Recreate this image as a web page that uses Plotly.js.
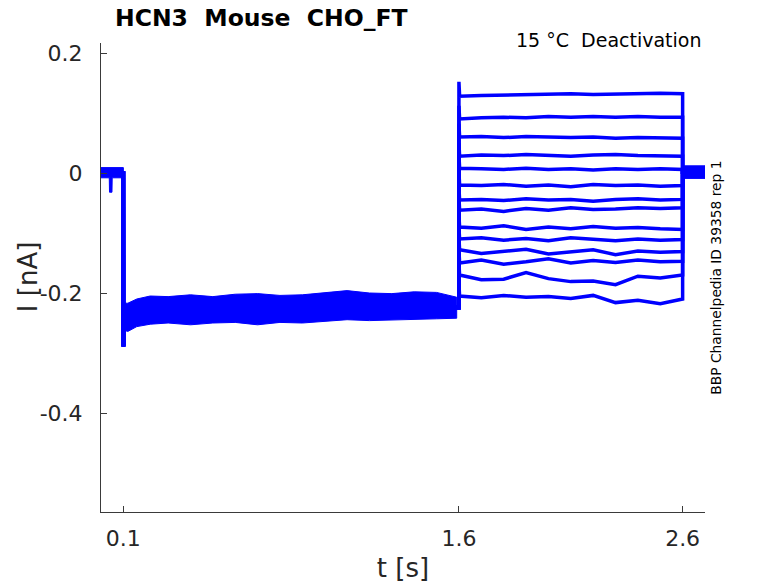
<!DOCTYPE html>
<html>
<head>
<meta charset="utf-8">
<script src="https://cdn.plot.ly/plotly-3.0.1.min.js"></script>
<style>
  html, body { margin: 0; padding: 0; background: #fff; }
  #chart { width: 778px; height: 583px; }
</style>
</head>
<body>
<div id="chart"></div>
<script>
// pre-pulse baseline noise band (t < 0.1 s), with the short dip near 0.04 s
const tPreUpper = [0, 0.1];
const preUpper = [0.009, 0.009];
const tPreLower = [0, 0.037, 0.038, 0.049, 0.05, 0.1];
const preLower = [-0.008, -0.008, -0.032, -0.032, -0.008, -0.008];

// holding segment noise band (0.1 .. 1.6 s), all sweeps on top of each other
const tHold = [0.102, 0.12, 0.16, 0.22, 0.3, 0.4, 0.5, 0.6, 0.7, 0.8, 0.9, 1.0, 1.1, 1.2, 1.3, 1.4, 1.5, 1.59];
const holdUpper = [-0.217, -0.217, -0.210, -0.205, -0.206, -0.203, -0.206, -0.202, -0.201, -0.204, -0.203, -0.199, -0.196, -0.200, -0.201, -0.198, -0.199, -0.207];
const holdLower = [-0.262, -0.264, -0.256, -0.252, -0.250, -0.253, -0.250, -0.249, -0.253, -0.249, -0.250, -0.247, -0.2445, -0.246, -0.2445, -0.244, -0.243, -0.242];
const holdCenter = [-0.238, -0.240, -0.233, -0.229, -0.228, -0.228, -0.228, -0.226, -0.227, -0.226, -0.226, -0.223, -0.220, -0.223, -0.222, -0.221, -0.221, -0.224];
const stepSpike = -0.289;

// tail after the test pulse (2.6 .. 2.7 s)
const tTail = [2.6, 2.7];
const tailUpper = [0.012, 0.012];
const tailLower = [-0.009, -0.009];

// test pulse, one row per sweep
const tTest = [1.6, 1.7, 1.8, 1.9, 2.0, 2.1, 2.2, 2.3, 2.4, 2.5, 2.6];
const testSpikes = [0.152, 0.112, 0.082, 0.050, 0.030, 0.002, -0.024, -0.040, -0.070, -0.090, -0.108, -0.128, -0.150, -0.185];
const sweeps = [
  [0.128, 0.129, 0.130, 0.131, 0.131, 0.132, 0.131, 0.132, 0.132, 0.133, 0.132],
  [0.090, 0.092, 0.093, 0.092, 0.094, 0.093, 0.094, 0.093, 0.094, 0.093, 0.093],
  [0.060, 0.061, 0.059, 0.061, 0.060, 0.059, 0.060, 0.058, 0.059, 0.059, 0.058],
  [0.028, 0.030, 0.029, 0.031, 0.030, 0.028, 0.030, 0.031, 0.029, 0.029, 0.028],
  [0.008, 0.007, 0.006, 0.008, 0.006, 0.007, 0.005, 0.007, 0.006, 0.007, 0.006],
  [-0.020, -0.021, -0.019, -0.022, -0.020, -0.023, -0.019, -0.021, -0.020, -0.022, -0.021],
  [-0.045, -0.044, -0.046, -0.043, -0.045, -0.044, -0.047, -0.044, -0.043, -0.045, -0.044],
  [-0.062, -0.060, -0.064, -0.059, -0.062, -0.058, -0.061, -0.060, -0.058, -0.059, -0.058],
  [-0.090, -0.092, -0.088, -0.094, -0.090, -0.093, -0.089, -0.092, -0.091, -0.093, -0.094],
  [-0.110, -0.108, -0.112, -0.109, -0.113, -0.108, -0.111, -0.113, -0.110, -0.112, -0.111],
  [-0.128, -0.134, -0.130, -0.127, -0.135, -0.131, -0.128, -0.136, -0.130, -0.132, -0.131],
  [-0.150, -0.145, -0.152, -0.148, -0.143, -0.150, -0.146, -0.149, -0.145, -0.148, -0.147],
  [-0.170, -0.178, -0.177, -0.166, -0.176, -0.181, -0.180, -0.186, -0.172, -0.175, -0.170],
  [-0.205, -0.208, -0.204, -0.207, -0.206, -0.209, -0.204, -0.216, -0.212, -0.218, -0.210]
];
const tailLevel = 0.001;

const xTicks = [0.1, 1.6, 2.6];
const xTickText = ["0.1", "1.6", "2.6"];
const yTicks = [-0.4, -0.2, 0, 0.2];
const yTickText = ["-0.4", "-0.2", "0", "0.2"];

const blue = "rgb(0,0,255)";
const axisColor = "#3a3a3a";
const textColor = "#262626";

function band(tUp, up, tLow, low) {
  return {
    x: tUp.concat(tLow.slice().reverse()),
    y: up.concat(low.slice().reverse()),
    type: "scatter",
    mode: "lines",
    fill: "toself",
    fillcolor: blue,
    line: { color: blue, width: 1 },
    hoverinfo: "skip",
    showlegend: false,
  };
}

const traces = [];

sweeps.forEach((levels, i) => {
  const x = [0, 0.1, 0.1005, 0.104]
    .concat(tHold.slice(1), [1.6, 1.6, 1.603], tTest.slice(1), [2.6, 2.7]);
  const y = [0, 0, stepSpike, holdCenter[0]]
    .concat(holdCenter.slice(1), [holdCenter[holdCenter.length - 1], testSpikes[i], levels[0]],
      levels.slice(1), [tailLevel, tailLevel]);
  traces.push({
    x: x,
    y: y,
    type: "scatter",
    mode: "lines",
    line: { color: blue, width: 3.5 },
    hoverinfo: "skip",
    showlegend: false,
  });
});

traces.push(band(tPreUpper, preUpper, tPreLower, preLower));
traces.push(band(tHold, holdUpper, tHold, holdLower));
traces.push(band(tTail, tailUpper, tTail, tailLower));

const layout = {
  width: 778,
  height: 583,
  margin: { l: 101, r: 73, t: 43, b: 71 },
  paper_bgcolor: "#fff",
  plot_bgcolor: "#fff",
  font: { family: "DejaVu Sans", color: textColor },
  title: {
    text: "<b>HCN3  Mouse  CHO_FT</b>",
    font: { family: "DejaVu Sans", size: 23.5, color: "#000" },
    x: 115 / 778,
    xanchor: "left",
    xref: "container",
    y: 1 - 18 / 583,
    yanchor: "middle",
    yref: "container",
  },
  xaxis: {
    range: [0, 2.7],
    tickvals: xTicks,
    ticktext: xTickText,
    ticks: "inside",
    ticklen: 6,
    tickcolor: axisColor,
    tickfont: { size: 22, color: textColor },
    ticklabelstandoff: 7,
    showline: true,
    linecolor: axisColor,
    linewidth: 1,
    showgrid: false,
    zeroline: false,
    title: { text: "t [s]", font: { size: 26, color: textColor }, standoff: 10 },
  },
  yaxis: {
    range: [-0.565, 0.2167],
    tickvals: yTicks,
    ticktext: yTickText,
    ticks: "inside",
    ticklen: 6,
    tickcolor: axisColor,
    tickfont: { size: 22, color: textColor },
    ticklabelstandoff: 13,
    showline: true,
    linecolor: axisColor,
    linewidth: 1,
    showgrid: false,
    zeroline: false,
  },
  annotations: [
    {
      text: "I [nA]",
      xref: "paper",
      yref: "paper",
      x: -0.1214,
      y: 0.5,
      xanchor: "center",
      yanchor: "middle",
      textangle: -90,
      showarrow: false,
      font: { size: 26, color: textColor },
    },
    {
      text: "15 °C  Deactivation",
      xref: "paper",
      yref: "paper",
      x: 0.9975,
      y: 1.006,
      xanchor: "right",
      yanchor: "middle",
      showarrow: false,
      font: { size: 19, color: "#000" },
    },
    {
      text: "BBP Channelpedia ID 39358 rep 1",
      xref: "paper",
      yref: "paper",
      x: 1.0177,
      y: 0.499,
      xanchor: "center",
      yanchor: "middle",
      textangle: -90,
      showarrow: false,
      font: { size: 13.8, color: "#000" },
    },
  ],
};

Plotly.newPlot("chart", traces, layout, { staticPlot: true });
</script>
</body>
</html>
